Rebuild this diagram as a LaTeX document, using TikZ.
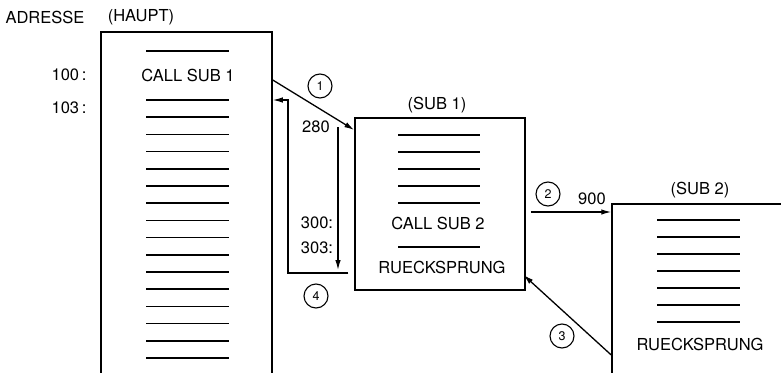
\documentclass[tikz,border=0pt]{standalone}
\usepackage{fontspec}
\setmainfont{TeX Gyre Heros}
\usetikzlibrary{arrows.meta}

\tikzset{
  box/.style={draw, line width=1.5pt, inner sep=0pt},
  stmt/.style={line width=1.5pt},
  num/.style={draw, circle, line width=1.1pt, minimum size=24pt, inner sep=0pt,
    font=\fontsize{12.5}{14}\selectfont},
  jump/.style={line width=1.3pt, -{Latex[length=10pt,width=5.5pt]}},
}

\begin{document}
\begin{tikzpicture}[x=1pt, y=-1pt, font=\fontsize{16.5}{19}\selectfont]
\useasboundingbox (0,0) rectangle (781,372);
\clip (0,0) rectangle (781,372);
% programs:
\node[box, minimum width=171pt, minimum height=368pt] (haupt) at (186.5,216) {};
\node[box, minimum width=170pt, minimum height=172pt] (sub1) at (440,204) {};
\node[box, minimum width=208pt, minimum height=196pt] (sub2) at (716,302) {};
% headings:
\node (adr) at (45,17) {ADRESSE};
\node (hlab) at (141,17) {(HAUPT)};
\node (s1lab) at (437,105) {(SUB 1)};
\node (s2lab) at (700,190) {(SUB 2)};
% addresses:
\node[anchor=east] (a100) at (90,75) {100\,:};
\node[anchor=east] (a103) at (90,108) {103\,:};
\node (a280) at (316,127) {280};
\node (a300) at (317,223) {300:};
\node (a303) at (317,248) {303:};
\node (a900) at (592,199) {900};
% instructions:
\node (call1) at (188,75) {CALL SUB 1};
\node (call2) at (438,223) {CALL SUB 2};
\node (ret1) at (442,267) {RUECKSPRUNG};
\node (ret2) at (700,344) {RUECKSPRUNG};
\draw[stmt] (146,51) -- (229,51);
\foreach \y in {100,117.2,...,360} \draw[stmt] (146,\y) -- (229,\y);
\foreach \y in {135,152,169,186,203,247} \draw[stmt] (398,\y) -- (480,\y);
\foreach \y in {220,237,...,330} \draw[stmt] (657,\y) -- (740,\y);
% steps:
\node[num] (n1) at (320,86) {1};
\node[num] (n2) at (548,194) {2};
\node[num] (n3) at (562,336) {3};
\node[num] (n4) at (316,296) {4};
% jumps:
\coordinate (run1) at (338,127);
\coordinate (run2) at (338,270);
\draw[jump] (haupt.east |- 0,80) -- (sub1.west |- 0,130);
\draw[jump] (run1) -- (run2);
\draw[jump, shorten <=6pt] (sub1.west |- 0,273) -- (288,273) -- (288,100) -- (haupt.east |- 0,100);
\draw[jump, shorten <=5pt] (sub1.east |- 0,212) -- (sub2.west |- 0,212);
\draw[jump, shorten >=-3pt] (sub2.west |- 0,355) -- (sub1.east |- 0,277);
\end{tikzpicture}
\end{document}
